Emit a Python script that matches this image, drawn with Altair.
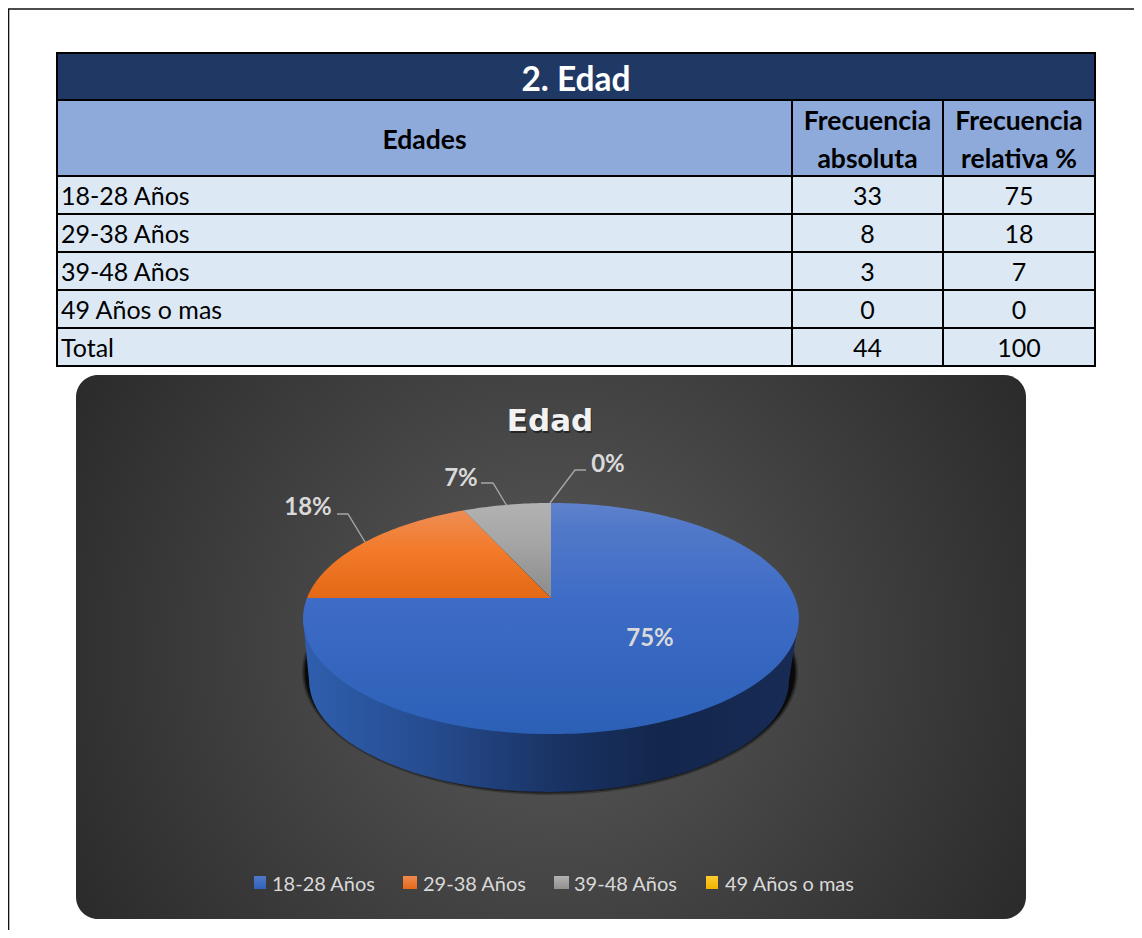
import math
import altair as alt
import pandas as pd

# ---------- data ----------
TITLE = "2. Edad"
COL_HEAD = ["Edades", "Frecuencia absoluta", "Frecuencia relativa %"]
AGES = ["18-28 Años", "29-38 Años", "39-48 Años", "49 Años o mas"]
ABSOLUTE = [33, 8, 3, 0]
RELATIVE = [75, 18, 7, 0]
TOTAL_LABEL = "Total"
TOTAL_ABS = 44
TOTAL_REL = 100
PIE_LABELS = ["75%", "18%", "7%", "0%"]
PIE_TITLE = "Edad"

# ---------- layout (reference pixel space) ----------
W, H = 1126, 922
OFF = 8
COLS = [57, 792, 943, 1095]
ROWS = [53, 100, 176, 214, 252, 290, 328, 366]
FONT = "Lato"
xs = alt.Scale(domain=[0, W], range=[0, W])
ys = alt.Scale(domain=[0, H], range=[0, H])
X = lambda f="x": alt.X(f"{f}:Q", scale=xs, axis=None)
Y = lambda f="y": alt.Y(f"{f}:Q", scale=ys, axis=None)
X2 = lambda f="x2": alt.X2(f"{f}:Q")
Y2 = lambda f="y2": alt.Y2(f"{f}:Q")


def vgrad(*stops):
    return alt.Gradient(gradient="linear", x1=0, x2=0, y1=0, y2=1,
                        stops=[alt.GradientStop(offset=o, color=c) for o, c in stops])


def hgrad(*stops):
    return alt.Gradient(gradient="linear", x1=0, x2=1, y1=0, y2=0,
                        stops=[alt.GradientStop(offset=o, color=c) for o, c in stops])


layers = []

# page frame
frame = pd.DataFrame([
    {"x": 0.5, "x2": 0.5, "y": 1, "y2": H},
    {"x": 0, "x2": W, "y": 1, "y2": 1},
])
layers.append(alt.Chart(frame).mark_rule(color="#111111", strokeWidth=1.6).encode(
    x=X(), x2=X2(), y=Y(), y2=Y2()))

# ---------- table ----------
cells, texts = [], []


def cell(c0, c1, r, fill):
    cells.append(dict(x=COLS[c0] - OFF, x2=COLS[c1] - OFF, y=ROWS[r] - OFF, y2=ROWS[r + 1] - OFF, fill=fill))


def txt(label, x, y, kind):
    texts.append(dict(label=label, x=x - OFF, y=y - OFF, kind=kind))


NAVY, HEAD, BODY = "#1f3864", "#8eaadb", "#dce9f5"
cell(0, 3, 0, NAVY)
txt(TITLE, (COLS[0] + COLS[3]) / 2, 81, "title")
for c in range(3):
    cell(c, c + 1, 1, HEAD)
txt(COL_HEAD[0], (COLS[0] + COLS[1]) / 2, 141, "head")
for c, name in zip((1, 2), COL_HEAD[1:]):
    a, b = name.split(" ", 1)
    cx = (COLS[c] + COLS[c + 1]) / 2
    txt(a, cx, 122, "head")
    txt(b, cx, 160, "head")
rows = list(zip(AGES + [TOTAL_LABEL], ABSOLUTE + [TOTAL_ABS], RELATIVE + [TOTAL_REL]))
for i, (lab, ab, re) in enumerate(rows):
    r = i + 2
    for c in range(3):
        cell(c, c + 1, r, BODY)
    cy = (ROWS[r] + ROWS[r + 1]) / 2 + 2
    txt(lab, COLS[0] + 4, cy, "left")
    txt(str(ab), (COLS[1] + COLS[2]) / 2, cy, "num")
    txt(str(re), (COLS[2] + COLS[3]) / 2, cy, "num")

layers.append(alt.Chart(pd.DataFrame(cells)).mark_rect(stroke="#000000", strokeWidth=2).encode(
    x=X(), x2=X2(), y=Y(), y2=Y2(), fill=alt.Fill("fill:N", scale=None)))
tdf = pd.DataFrame(texts)
for kind, kw in {
    "title": dict(fontSize=33.5, fontWeight="bold", color="#ffffff", align="center"),
    "head": dict(fontSize=26.5, fontWeight="bold", color="#000000", align="center"),
    "left": dict(fontSize=25, color="#000000", align="left"),
    "num": dict(fontSize=25, color="#000000", align="center"),
}.items():
    layers.append(alt.Chart(tdf[tdf.kind == kind]).mark_text(font=FONT, baseline="middle", **kw).encode(
        x=X(), y=Y(), text="label:N"))

# ---------- chart panel ----------
panel = pd.DataFrame([dict(x=76 - OFF, x2=1026 - OFF, y=375 - OFF, y2=919 - OFF)])
radial = alt.Gradient(gradient="radial", x1=0.5, y1=0.5, x2=0.5, y2=0.5, r1=0, r2=0.58,
                      stops=[alt.GradientStop(offset=0, color="#5a5a5a"),
                             alt.GradientStop(offset=1, color="#2a2a2a")])
layers.append(alt.Chart(panel).mark_rect(cornerRadius=22, fill=radial).encode(
    x=X(), x2=X2(), y=Y(), y2=Y2()))

# ---------- pie (perspective projection of the circle) ----------
AX, BY, K = 244.0, 111.9, 0.1775
APEX = pd.DataFrame([dict(x=551 - OFF, y=598 - OFF)])


def proj(deg):
    t = math.radians(deg)
    s, c = math.sin(t), math.cos(t)
    d = 1 + K * c
    return AX * s / d, -BY * c / d


def wedge(a0, a1):
    n = max(2, int(abs(a1 - a0)))
    pts = [proj(a0 + (a1 - a0) * i / n) for i in range(n + 1)]
    return "M0,0 " + " ".join(f"L{x:.2f},{y:.2f}" for x, y in pts) + " Z"


def sym(path, fill, opacity=1.0):
    return alt.Chart(APEX).mark_point(shape=path, size=4, filled=True, fill=fill, opacity=opacity,
                                      strokeWidth=0).encode(x=X(), y=Y())


def ell(cx, cy, rx, ry):
    return f"M{cx - rx},{cy} A{rx},{ry} 0 1 0 {cx + rx},{cy} A{rx},{ry} 0 1 0 {cx - rx},{cy} Z"


# shadow
for grow, op in ((3, 0.25), (1.5, 0.4), (0, 0.7)):
    layers.append(sym(ell(-1, 74, 245 + grow, 120 + grow), "#000000", op))
# wall
wall = "M-248,21 L-242,82 A240,112 0 0 0 238,82 L248,21 Z"
layers.append(sym(wall, hgrad((0, "#2f5fae"), (0.25, "#264c90"), (0.5, "#1a3466"), (0.72, "#13264c"), (1, "#172b55"))))

# top faces
total = sum(ABSOLUTE)
fills = [
    vgrad((0, "#5f82cb"), (0.1, "#5279c9"), (0.42, "#3e6cc6"), (1, "#2c60b7")),
    vgrad((0, "#ee8d55"), (0.45, "#f27a2a"), (1, "#e46916")),
    vgrad((0, "#b2b2b2"), (0.4, "#a6a6a6"), (1, "#8b8b8b")),
]
angle = 0.0
for v, f in zip(ABSOLUTE, fills):
    span = 360 * v / total
    layers.append(sym(wedge(angle, angle + span), f))
    angle += span

# leader lines
leaders = pd.DataFrame([
    dict(g=g, o=o, x=x - OFF, y=y - OFF)
    for g, pts in {
        "a": [(337, 514), (348, 514), (365, 542)],
        "b": [(481, 483), (493, 483), (507, 506)],
        "c": [(586, 470), (575, 470), (550, 503)],
    }.items() for o, (x, y) in enumerate(pts)
])
layers.append(alt.Chart(leaders).mark_line(color="#a6a6a6", strokeWidth=1.4).encode(
    x=X(), y=Y(), detail="g:N", order="o:Q"))

# pie labels
plab = pd.DataFrame([
    dict(label=l, x=x - OFF, y=y - OFF)
    for l, (x, y) in zip(PIE_LABELS, [(650, 639), (308, 508), (461, 479), (608, 465)])
])
layers.append(alt.Chart(plab).mark_text(font=FONT, fontSize=24, fontWeight="bold", color="#d9d9d9",
                                        baseline="middle", align="center").encode(
    x=X(), y=Y(), text="label:N"))

# chart title (with soft shadow)
ttl = pd.DataFrame([dict(label=PIE_TITLE, x=550 - OFF, y=422 - OFF)])
TF = "DejaVu Sans"
layers.append(alt.Chart(ttl).mark_text(font=TF, fontSize=31, fontWeight="bold", color="#000000",
                                       opacity=0.45, dx=1, dy=2, baseline="middle", align="center").encode(
    x=X(), y=Y(), text="label:N"))
layers.append(alt.Chart(ttl).mark_text(font=TF, fontSize=31, fontWeight="bold", color="#f2f2f2",
                                       baseline="middle", align="center").encode(
    x=X(), y=Y(), text="label:N"))

# legend
LEG_X = [(254, 266), (403, 417), (554, 569), (706, 718)]
LEG_T = [272, 423, 574, 725]
LEG_F = [
    vgrad((0, "#5279c9"), (1, "#2f62b9")),
    vgrad((0, "#f08a50"), (1, "#e46916")),
    vgrad((0, "#b2b2b2"), (1, "#909090")),
    vgrad((0, "#ffcd33"), (1, "#f0b400")),
]
for (a, b), f in zip(LEG_X, LEG_F):
    layers.append(alt.Chart(pd.DataFrame([dict(x=a - OFF, x2=b - OFF, y=876 - OFF, y2=889 - OFF)]))
                  .mark_rect(fill=f).encode(x=X(), x2=X2(), y=Y(), y2=Y2()))
ltxt = pd.DataFrame([dict(label=l, x=x - OFF, y=884.5 - OFF) for l, x in zip(AGES, LEG_T)])
layers.append(alt.Chart(ltxt).mark_text(font=FONT, fontSize=20, color="#d9d9d9", baseline="middle",
                                        align="left").encode(x=X(), y=Y(), text="label:N"))

chart = alt.layer(*layers).properties(
    width=W, height=H, padding=0, background="#ffffff",
    autosize=alt.AutoSizeParams(type="none"),
).configure_view(stroke=None)

chart.save("out.html", embed_options={"renderer": "svg", "actions": False})
